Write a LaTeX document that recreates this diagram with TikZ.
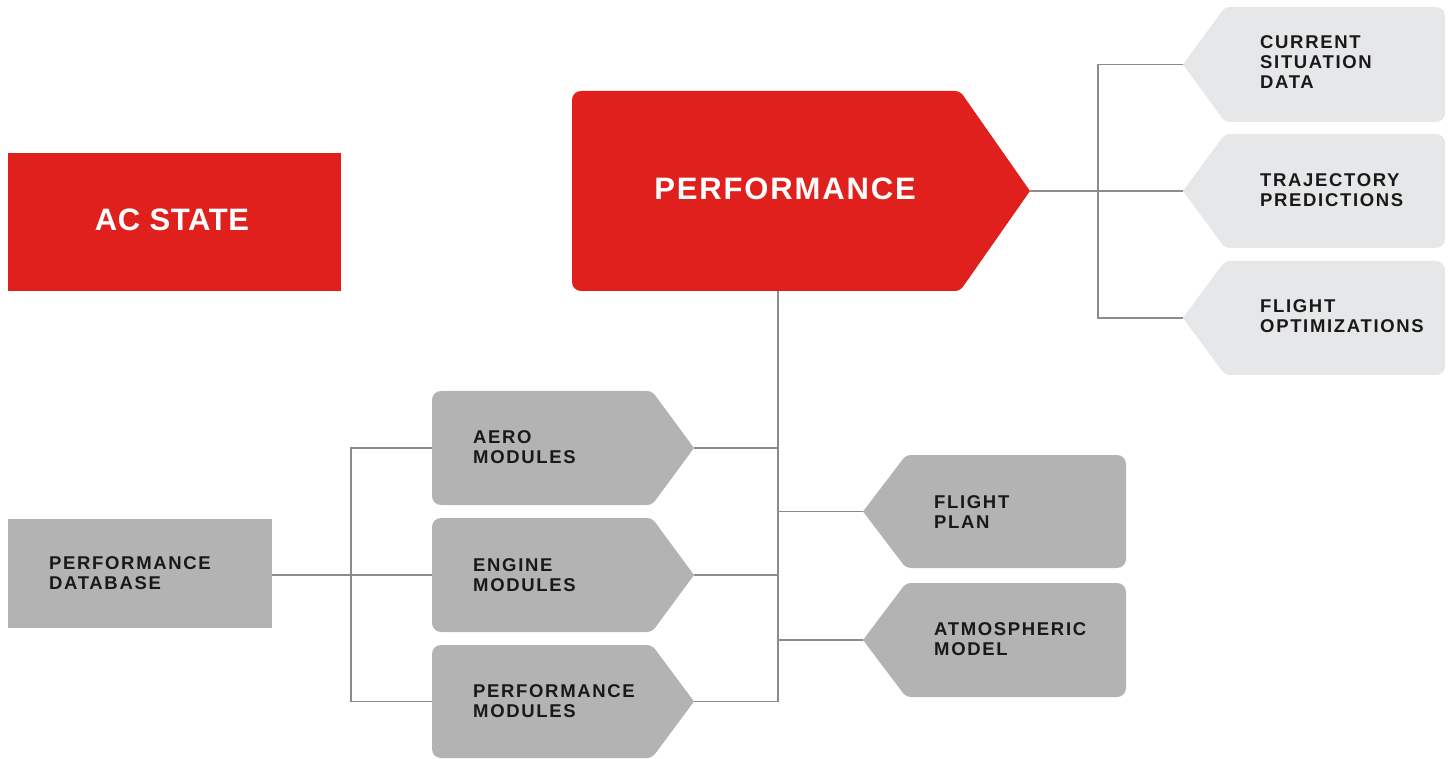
\documentclass[tikz,border=0pt]{standalone}
\usepackage{fontspec}
\newfontfamily\lblfont{Liberation Sans}[LetterSpace=9]
\newfontfamily\bigfont{Liberation Sans}[LetterSpace=6]
\newfontfamily\acfont{Liberation Sans}[LetterSpace=2]
\definecolor{acred}{HTML}{E0201C}
\definecolor{boxgray}{HTML}{B3B3B3}
\definecolor{lightgray}{HTML}{E6E7E8}
\definecolor{linegray}{HTML}{8C8C8C}
\tikzset{
  lbl/.style={font=\lblfont\bfseries\fontsize{18.5}{20}\selectfont, align=left, inner sep=0pt, anchor=west, text=black!90},
  big/.style={font=\bigfont\bfseries\fontsize{31}{36}\selectfont, text=white, inner sep=0pt},
  acbig/.style={font=\acfont\bfseries\fontsize{31}{36}\selectfont, text=white, inner sep=0pt},
  conn/.style={draw=linegray, line width=1.2pt}
}
% right-pointing pentagon: fill, x1, y1, xflat, xtip, y2, tipname
\newcommand\pentR[7]{%
  \fill[#1] (#5,{(#3+#6)/2}) [rounded corners=5pt] -- (#4,#3) [rounded corners=9pt] -- (#2,#3) -- (#2,#6) [rounded corners=5pt] -- (#4,#6) [sharp corners] -- cycle;
  \coordinate (#7) at (#5,{(#3+#6)/2});}
% left-pointing pentagon: fill, xtip, xflat, y1, x2, y2, tipname
\newcommand\pentL[7]{%
  \fill[#1] (#2,{(#4+#6)/2}) [rounded corners=5pt] -- (#3,#4) [rounded corners=9pt] -- (#5,#4) -- (#5,#6) [rounded corners=5pt] -- (#3,#6) [sharp corners] -- cycle;
  \coordinate (#7) at (#2,{(#4+#6)/2});}
\begin{document}
\begin{tikzpicture}[x=1pt,y=-1pt]
\useasboundingbox (0,0) rectangle (1452,759);
% AC STATE
\fill[acred] (8,153) rectangle (341,291);
\node[acbig] (acstate) at (172,220) {AC STATE};
% PERFORMANCE
\pentR{acred}{572}{91}{960}{1030}{291}{perfTip}
\node[big] (perf) at (785,189) {PERFORMANCE};
\coordinate (perfBot) at (778,291);
% right outputs
\pentL{lightgray}{1183}{1225}{7}{1445}{122}{outA}
\pentL{lightgray}{1183}{1225}{134}{1445}{248}{outB}
\pentL{lightgray}{1183}{1225}{261}{1445}{375}{outC}
\node[lbl] (curr) at (1260,62) {CURRENT\\SITUATION\\DATA};
\node[lbl] (traj) at (1260,190) {TRAJECTORY\\PREDICTIONS};
\node[lbl] (fopt) at (1260,316) {FLIGHT\\OPTIMIZATIONS};
% modules
\pentR{boxgray}{432}{391}{652}{694}{505}{aeroTip}
\pentR{boxgray}{432}{518}{652}{694}{632}{engTip}
\pentR{boxgray}{432}{645}{652}{694}{758}{pmTip}
\node[lbl] (aero) at (473,447) {AERO\\MODULES};
\node[lbl] (eng) at (473,575) {ENGINE\\MODULES};
\node[lbl] (pm) at (473,701) {PERFORMANCE\\MODULES};
\coordinate (aeroL) at (432,448);
\coordinate (engL) at (432,575);
\coordinate (pmL) at (432,701.5);
% flight plan / atmospheric
\pentL{boxgray}{863}{906}{455}{1126}{568}{fpTip}
\pentL{boxgray}{863}{906}{583}{1126}{697}{atmTip}
\node[lbl] (fp) at (934,512) {FLIGHT\\PLAN};
\node[lbl] (atm) at (934,639) {ATMOSPHERIC\\MODEL};
% database
\fill[boxgray] (8,519) rectangle (272,628);
\coordinate (dbR) at (272,575);
\node[lbl] (db) at (49,573) {PERFORMANCE\\DATABASE};
% connectors
\coordinate (rbus) at (1098,191);
\draw[conn] (perfTip) -- (outB);
\draw[conn] (outA) -| (rbus) |- (outC);
\coordinate (lbus) at (pmTip -| perfBot);
\draw[conn] (perfBot) -- (lbus);
\draw[conn] (aeroTip) -- (aeroTip -| lbus);
\draw[conn] (engTip) -- (engTip -| lbus);
\draw[conn] (pmTip) -- (lbus);
\draw[conn] (fpTip) -- (fpTip -| lbus);
\draw[conn] (atmTip) -- (atmTip -| lbus);
\coordinate (dbus) at (351,575);
\draw[conn] (dbR) -- (engL);
\draw[conn] (aeroL) -| (dbus) |- (pmL);
\end{tikzpicture}
\end{document}
